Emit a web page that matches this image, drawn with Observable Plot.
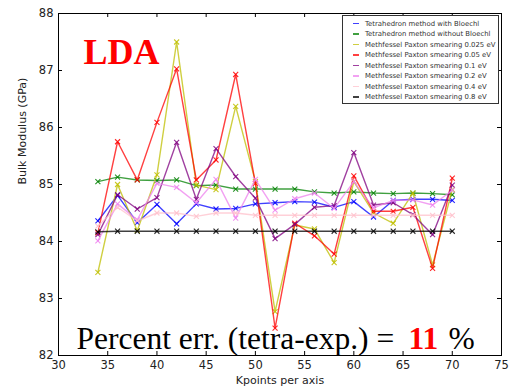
<!DOCTYPE html>
<html><head><meta charset="utf-8">
<script src="https://cdn.jsdelivr.net/npm/d3@7"></script>
<script src="https://cdn.jsdelivr.net/npm/@observablehq/plot@0.6"></script>
<style>
body{margin:0;background:#fff;}
#wrap{position:relative;width:516px;height:386px;overflow:hidden;}
#legend{position:absolute;left:342px;top:15px;width:157px;height:89px;border:1.3px solid #333;background:#fff;box-sizing:border-box;font-family:"DejaVu Sans";font-size:6.9px;color:#333;}
.row{position:absolute;left:0;height:10px;display:flex;align-items:center;white-space:nowrap;}
.sw{display:inline-block;width:6px;height:1.4px;margin-left:10px;margin-right:6px;}
</style></head>
<body><div id="wrap"></div>
<script>
const kpoints = [34,36,38,40,42,44,46,48,50,52,54,56,58,60,62,64,66,68,70];
const xTicks = [30,35,40,45,50,55,60,65,70,75];
const yTicks = [82,83,84,85,86,87,88];

const seriesNames = [
  "Tetrahedron method with Bloechl",
  "Tetrahedron method without Bloechl",
  "Methfessel Paxton smearing 0.025 eV",
  "Methfessel Paxton smearing 0.05 eV",
  "Methfessel Paxton smearing 0.1 eV",
  "Methfessel Paxton smearing 0.2 eV",
  "Methfessel Paxton smearing 0.4 eV",
  "Methfessel Paxton smearing 0.8 eV"
];
const seriesColors = ["#0000ff","#008000","#bfbf00","#ff0000","#800080","#ee82ee","#ffc0cb","#000000"];

const tetraBloechl   = [84.36,84.81,84.33,84.65,84.31,84.66,84.57,84.58,84.66,84.68,84.70,84.69,84.60,84.70,84.43,84.72,84.74,84.74,84.72];
const tetraNoBloechl = [85.05,85.13,85.08,85.07,85.08,84.98,84.99,84.92,84.92,84.92,84.92,84.87,84.85,84.87,84.85,84.84,84.85,84.84,84.82];
const mp0025 = [83.46,85.00,84.19,85.17,87.50,84.99,84.91,86.37,85.05,82.77,84.29,84.22,83.63,85.05,84.50,84.32,84.85,83.59,84.91];
const mp005  = [84.15,85.75,85.08,86.09,87.03,85.08,85.43,86.93,85.02,82.48,84.32,84.10,83.78,85.15,84.53,84.53,84.60,83.53,85.11];
const mp01   = [84.12,84.82,84.57,84.77,85.74,84.74,85.63,85.14,84.76,84.05,84.30,84.60,84.63,85.56,84.64,84.68,84.47,84.12,84.99];
const mp02   = [84.01,84.66,84.38,85.02,84.95,84.68,85.09,84.41,85.09,84.55,84.75,84.85,84.58,85.05,84.59,84.72,84.73,84.64,84.90];
const mp04   = [84.27,84.60,84.36,84.50,84.50,84.44,84.50,84.50,84.46,84.46,84.46,84.46,84.46,84.46,84.46,84.46,84.46,84.46,84.46];
const mp08   = [84.17,84.18,84.18,84.18,84.18,84.18,84.18,84.18,84.18,84.18,84.18,84.18,84.18,84.18,84.18,84.18,84.18,84.18,84.18];
const seriesValues = [tetraBloechl,tetraNoBloechl,mp0025,mp005,mp01,mp02,mp04,mp08];

const W = 516, H = 386, mT = 13, mB = 31, mL = 58, mR = 15;
const plotH = H - mT - mB, plotW = W - mL - mR;

const seriesMarks = seriesValues.flatMap((vals, s) => {
  const rows = kpoints.map((k, i) => ({k, v: vals[i]}));
  return [
    Plot.line(rows, {x: "k", y: "v", stroke: seriesColors[s], strokeWidth: 1.4, strokeOpacity: 0.75}),
    Plot.dot(rows, {x: "k", y: "v", stroke: seriesColors[s], symbol: "times", r: 2.4, strokeWidth: 1.1, strokeOpacity: 0.85})
  ];
});

const serif = "Liberation Serif, Times New Roman, serif";
const chart = Plot.plot({
  width: W, height: H,
  marginTop: mT, marginBottom: mB, marginLeft: mL, marginRight: mR,
  style: {fontFamily: "DejaVu Sans", fontSize: "11.5px", color: "#222", background: "white"},
  x: {domain: [30, 75], label: null},
  y: {domain: [82, 88], label: null},
  marks: [
    Plot.axisX({ticks: xTicks, tickSize: 0, tickPadding: 5, label: null, fontSize: 11.5, tickFormat: d => String(d)}),
    Plot.axisY({ticks: yTicks, tickSize: 0, tickPadding: 5, label: null, fontSize: 11.5, tickFormat: d => String(d)}),
    ...seriesMarks,
    Plot.tickX(xTicks, {x: d => d, insetTop: plotH - 4, stroke: "black"}),
    Plot.tickX(xTicks, {x: d => d, insetBottom: plotH - 4, stroke: "black"}),
    Plot.tickY(yTicks, {y: d => d, insetRight: plotW - 4, stroke: "black"}),
    Plot.tickY(yTicks, {y: d => d, insetLeft: plotW - 4, stroke: "black"}),
    Plot.frame({stroke: "black", strokeWidth: 1}),
    Plot.text(["Kpoints per axis"], {text: d => d, frameAnchor: "bottom", lineAnchor: "bottom", dy: 28, fontSize: 11, fill: "#222"}),
    Plot.text(["Bulk Modulus (GPa)"], {text: d => d, frameAnchor: "left", dx: -36, rotate: -90, fontSize: 11, fill: "#222"}),
    Plot.text(["LDA"], {text: d => d, frameAnchor: "top-left", textAnchor: "start", lineAnchor: "bottom", dx: 25, dy: 50, fontFamily: serif, fontWeight: "bold", fontSize: 36, fill: "#ff0000"}),
    Plot.text(["Percent err. (tetra-exp.) ="], {text: d => d, frameAnchor: "bottom-left", textAnchor: "start", lineAnchor: "bottom", dx: 18, dy: -7, fontFamily: serif, fontSize: 31.5, fill: "black"}),
    Plot.text(["11"], {text: d => d, frameAnchor: "bottom-left", textAnchor: "start", lineAnchor: "bottom", dx: 350, dy: -7, fontFamily: serif, fontWeight: "bold", fontSize: 31.5, fill: "#ff0000"}),
    Plot.text(["%"], {text: d => d, frameAnchor: "bottom-left", textAnchor: "start", lineAnchor: "bottom", dx: 390, dy: -7, fontFamily: serif, fontSize: 31.5, fill: "black"})
  ]
});

const wrap = document.getElementById("wrap");
wrap.appendChild(chart);

const legend = document.createElement("div");
legend.id = "legend";
seriesNames.forEach((name, i) => {
  const row = document.createElement("div");
  row.className = "row";
  row.style.top = (2.7 + i * 10.47) + "px";
  const sw = document.createElement("span");
  sw.className = "sw";
  sw.style.backgroundColor = seriesColors[i];
  sw.style.opacity = 0.75;
  const tx = document.createElement("span");
  tx.textContent = name;
  row.appendChild(sw);
  row.appendChild(tx);
  legend.appendChild(row);
});
wrap.appendChild(legend);
</script>
</body></html>
